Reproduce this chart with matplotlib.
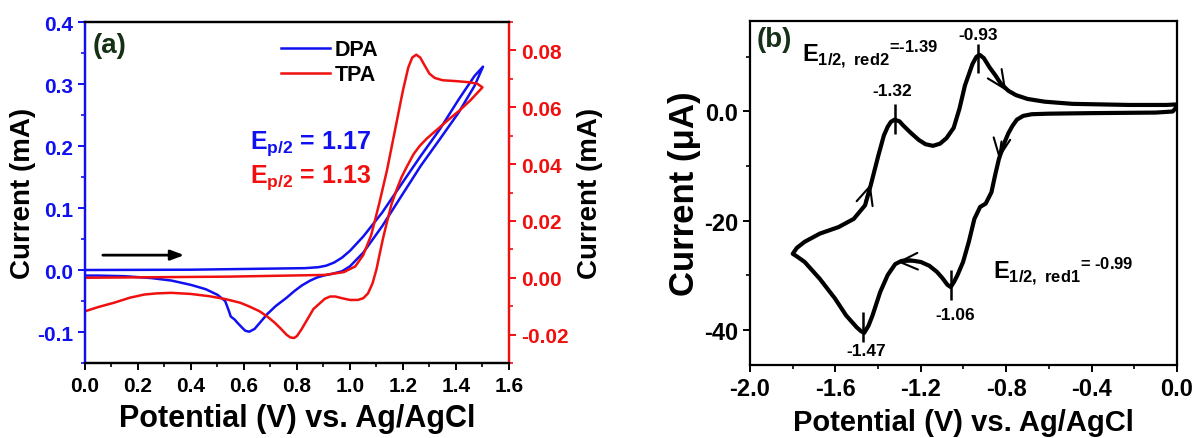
import matplotlib
matplotlib.use("Agg")
import matplotlib.pyplot as plt
from matplotlib.ticker import MultipleLocator

plt.rcParams["font.family"] = ["Liberation Sans", "DejaVu Sans"]
plt.rcParams["font.weight"] = "bold"
plt.rcParams["axes.unicode_minus"] = False
plt.rcParams["mathtext.fontset"] = "custom"
plt.rcParams["mathtext.rm"] = "Liberation Sans:bold"
plt.rcParams["mathtext.it"] = "Liberation Sans:bold"
plt.rcParams["mathtext.bf"] = "Liberation Sans:bold"

BLUE = "#1010f0"
RED = "#f01010"

# ---- panel (a) data: DPA (left axis, mA) and TPA (right axis, mA)
dpa_v = [0.0, 0.40, 0.83, 0.88, 0.91, 0.94, 0.97, 1.0, 1.05, 1.122, 1.195, 1.267, 1.339, 1.41, 1.47, 1.502,
         1.47, 1.41, 1.339, 1.267, 1.195, 1.122, 1.05, 1.0, 0.97, 0.934, 0.9, 0.876, 0.85, 0.818, 0.79,
         0.76, 0.72, 0.688, 0.66, 0.64, 0.62, 0.605, 0.593, 0.575, 0.565, 0.55, 0.543, 0.529, 0.50,
         0.456, 0.40, 0.326, 0.25, 0.15, 0.05, 0.0]
dpa_i = [0.0, 0.0005, 0.003, 0.0045, 0.007, 0.012, 0.02, 0.031, 0.054, 0.093, 0.139, 0.184, 0.227, 0.275,
         0.313, 0.328,
         0.297, 0.254, 0.211, 0.168, 0.12, 0.071, 0.028, 0.006, -0.002, -0.006, -0.009, -0.012, -0.017,
         -0.025, -0.034, -0.045, -0.058, -0.071, -0.085, -0.095, -0.0995, -0.098, -0.093, -0.085, -0.08,
         -0.075, -0.066, -0.05, -0.04, -0.031, -0.024, -0.017, -0.013, -0.010, -0.009, -0.009]

tpa_v = [0.0, 0.543, 0.905, 0.977, 1.02, 1.05, 1.08, 1.11, 1.14, 1.17, 1.20, 1.22, 1.235, 1.25, 1.265,
         1.28, 1.30, 1.32, 1.35, 1.40, 1.45, 1.48, 1.50,
         1.455, 1.415, 1.37, 1.327, 1.29, 1.264, 1.24, 1.214, 1.195, 1.176, 1.157, 1.138, 1.125, 1.113,
         1.10, 1.085, 1.068, 1.05, 1.03, 1.0, 0.97, 0.945, 0.925, 0.905, 0.88, 0.862, 0.84, 0.818, 0.80,
         0.789, 0.775, 0.76, 0.74, 0.717, 0.69, 0.659, 0.62, 0.586, 0.53, 0.47, 0.40, 0.326, 0.27, 0.224,
         0.17, 0.109, 0.05, 0.0]
tpa_i = [0.0, 0.0004, 0.001, 0.002, 0.004, 0.008, 0.015, 0.026, 0.038, 0.052, 0.066, 0.074, 0.0775,
         0.0785, 0.0775, 0.075, 0.0718, 0.0703, 0.0695, 0.0692, 0.0688, 0.0683, 0.067,
         0.0625, 0.059, 0.0555, 0.052, 0.049, 0.0465, 0.0435, 0.039, 0.0355, 0.031, 0.026, 0.019, 0.014,
         0.0088, 0.003, -0.002, -0.0055, -0.0072, -0.0078, -0.0078, -0.0072, -0.0066, -0.0066, -0.0074,
         -0.0095, -0.011, -0.0145, -0.018, -0.0205, -0.0212, -0.021, -0.020, -0.018, -0.0159, -0.0138,
         -0.0118, -0.0101, -0.0088, -0.0075, -0.0065, -0.0057, -0.0053, -0.0055, -0.0059, -0.007, -0.0088,
         -0.0103, -0.0118]

# ---- panel (b) data: cathodic CV (uA)
cv_v = [0.0, -0.02, -0.1, -0.4, -0.6, -0.68, -0.72, -0.75, -0.77, -0.79, -0.807, -0.834, -0.852, -0.869,
        -0.896, -0.922, -0.949, -0.975, -1.002, -1.028, -1.045, -1.06, -1.075, -1.10, -1.125, -1.16,
        -1.20, -1.25, -1.29, -1.32, -1.355, -1.39, -1.426, -1.445, -1.465, -1.48, -1.50, -1.55, -1.602,
        -1.673, -1.744, -1.78, -1.80,
        -1.78, -1.744, -1.673, -1.585, -1.514, -1.461, -1.435, -1.399, -1.373, -1.355, -1.34, -1.323,
        -1.30, -1.284, -1.25, -1.21, -1.178, -1.143, -1.11, -1.08, -1.046, -1.019, -0.993, -0.958,
        -0.94, -0.925, -0.905, -0.878, -0.85, -0.825, -0.79, -0.754, -0.70, -0.62, -0.489, -0.224,
        -0.05, 0.0]
cv_i = [0.9, 0.0, -0.2, -0.3, -0.4, -0.5, -0.8, -1.5, -2.6, -4.0, -5.6, -8.7, -11.7, -14.8,
        -16.9, -17.5, -19.7, -23.9, -27.6, -30.0, -31.3, -32.2, -31.8, -30.5, -29.4, -28.3,
        -27.6, -27.3, -27.4, -28.0, -30.0, -33.1, -37.4, -39.3, -40.6, -40.3, -39.6, -37.4, -34.3,
        -30.7, -27.6, -26.6, -26.1,
        -25.0, -23.9, -22.4, -21.2, -19.7, -17.2, -13.6, -8.1, -4.4, -2.8, -1.9, -1.5,
        -1.8, -2.5, -3.8, -5.2, -6.0, -6.3, -5.9, -4.9, -3.0, 0.5, 4.8, 8.7,
        10.0, 10.4, 9.8, 8.1, 6.6, 5.1, 3.8, 3.0, 2.3, 1.8, 1.4, 1.2,
        1.2, 1.3]

peak_v = [-0.93, -1.32, -1.06, -1.47]
peak_lo = [7.1, -4.1, -34.6, -42.3]
peak_hi = [12.4, 1.4, -29.1, -36.8]
peak_lbl = ["-0.93", "-1.32", "-1.06", "-1.47"]
peak_lbl_y = [14.1, 3.8, -37.3, -43.9]
peak_lbl_x = [-0.93, -1.335, -1.04, -1.457]

# scan-direction arrowheads on the curve: (tail, tip)
scan_arrows = [((-0.843, 6.3), (-0.80, 3.8)),
               ((-0.822, -5.5), (-0.834, -8.7)),
               ((-1.24, -27.5), (-1.311, -27.6)),
               ((-1.46, -16.5), (-1.435, -13.3))]

fig = plt.figure(figsize=(11.92, 4.39), dpi=100)

# ================= panel (a)
ax = fig.add_axes([0.0713, 0.1708, 0.3557, 0.7768])
ax2 = ax.twinx()
l1, = ax.plot(dpa_v, dpa_i, color=BLUE, lw=1.8, label="DPA")
l2, = ax2.plot(tpa_v, tpa_i, color=RED, lw=1.8, label="TPA")

ax.set_xlim(0, 1.6)
ax.set_ylim(-0.15, 0.4)
ax2.set_ylim(-0.03, 0.09)
ax.xaxis.set_major_locator(MultipleLocator(0.2))
ax.xaxis.set_minor_locator(MultipleLocator(0.1))
ax.yaxis.set_major_locator(MultipleLocator(0.1))
ax.yaxis.set_minor_locator(MultipleLocator(0.05))
ax2.yaxis.set_major_locator(MultipleLocator(0.02))
ax2.yaxis.set_minor_locator(MultipleLocator(0.01))
ax.set_yticks([-0.1, 0.0, 0.1, 0.2, 0.3, 0.4])
ax2.set_yticks([-0.02, 0.0, 0.02, 0.04, 0.06, 0.08])
ax2.set_yticklabels(["-0.02", "0.00", "0.02", "0.04", "0.06", "0.08"])

for a in (ax, ax2):
    for s in a.spines.values():
        s.set_linewidth(1.6)
ax.spines["left"].set_color(BLUE)
ax2.spines["left"].set_color(BLUE)
ax.spines["right"].set_color(RED)
ax2.spines["right"].set_color(RED)

ax.tick_params(axis="x", which="major", direction="out", length=5, width=1.4, labelsize=15, pad=4)
ax.tick_params(axis="x", which="minor", direction="out", length=3, width=1.2)
ax.tick_params(axis="y", which="major", direction="out", length=5, width=1.4, labelsize=15,
               colors=BLUE)
ax.tick_params(axis="y", which="minor", direction="out", length=3, width=1.2, colors=BLUE)
ax2.tick_params(axis="y", which="major", direction="out", length=5, width=1.4, labelsize=15,
                colors=RED)
ax2.tick_params(axis="y", which="minor", direction="out", length=3, width=1.2, colors=RED)

ax.set_xlabel("Potential (V) vs. Ag/AgCl", fontsize=22, fontweight="bold", labelpad=6)
ax.set_ylabel("Current (mA)", fontsize=20, fontweight="bold", labelpad=1)
ax2.set_ylabel("Current (mA)", fontsize=20, fontweight="bold", labelpad=6)

ax2.legend(handles=[l1, l2], loc="upper left", bbox_to_anchor=(0.462, 0.95), frameon=False,
           borderpad=0, borderaxespad=0, handlelength=2.3, handletextpad=0.2, labelspacing=0.2,
           prop={"size": 15.5, "weight": "bold"})

ax.text(0.623, 0.206, r"E$_{\mathrm{p/2}}$ = 1.17", color=BLUE, fontsize=18, fontweight="bold",
        va="center", ha="left")
ax.text(0.623, 0.15, r"E$_{\mathrm{p/2}}$ = 1.13", color=RED, fontsize=18, fontweight="bold",
        va="center", ha="left")
ax.text(0.018, 0.97, "(a)", transform=ax.transAxes, color="#163016", fontsize=20,
        fontweight="bold", va="top", ha="left")
ax.annotate("", xy=(0.385, 0.024), xytext=(0.057, 0.024),
            arrowprops=dict(arrowstyle="-|>,head_length=0.8,head_width=0.3", color="black", lw=2))

# ================= panel (b)
bx = fig.add_axes([0.6292, 0.1663, 0.3582, 0.7836])
bx.plot(cv_v, cv_i, color="black", lw=3, solid_joinstyle="round")
bx.set_xlim(-2.0, 0.0)
bx.set_ylim(-46.5, 16.6)
bx.xaxis.set_major_locator(MultipleLocator(0.4))
bx.xaxis.set_minor_locator(MultipleLocator(0.2))
bx.yaxis.set_major_locator(MultipleLocator(20))
bx.yaxis.set_minor_locator(MultipleLocator(10))
bx.set_xticks([-2.0, -1.6, -1.2, -0.8, -0.4, 0.0])
bx.set_xticklabels(["-2.0", "-1.6", "-1.2", "-0.8", "-0.4", "0.0"])
bx.set_yticks([-40, -20, 0])
bx.set_yticklabels(["-40", "-20", "0.0"])
for s in bx.spines.values():
    s.set_linewidth(1.6)
bx.tick_params(which="major", direction="out", length=5, width=1.4, labelsize=17)
bx.tick_params(which="minor", direction="out", length=3, width=1.2)
bx.set_xlabel("Potential (V) vs. Ag/AgCl", fontsize=21, fontweight="bold", labelpad=6)
bx.set_ylabel("Current (μA)", fontsize=25, fontweight="bold", labelpad=2)

bx.vlines(peak_v, peak_lo, peak_hi, color="black", lw=1.8)
for x, y, s in zip(peak_lbl_x, peak_lbl_y, peak_lbl):
    bx.text(x, y, s, fontsize=12.5, fontweight="bold", ha="center", va="center")

for tail, tip in scan_arrows:
    bx.annotate("", xy=tip, xytext=tail,
                arrowprops=dict(arrowstyle="->,head_length=1.3,head_width=0.6", color="black",
                                lw=1.5, shrinkA=0, shrinkB=0))

bx.text(-1.756, 10.6, r"E$_{\mathrm{1/2,\ red2}}$${}^{\text{=-1.39}}$", fontsize=17,
        fontweight="bold", ha="left", va="center")
bx.text(-0.862, -29.2, r"E$_{\mathrm{1/2,\ red1}}$${}^{\text{= -0.99}}$", fontsize=17,
        fontweight="bold", ha="left", va="center")
bx.text(0.015, 0.985, "(b)", transform=bx.transAxes, color="#163016", fontsize=20,
        fontweight="bold", va="top", ha="left")

fig.savefig("out.png", dpi=100)
